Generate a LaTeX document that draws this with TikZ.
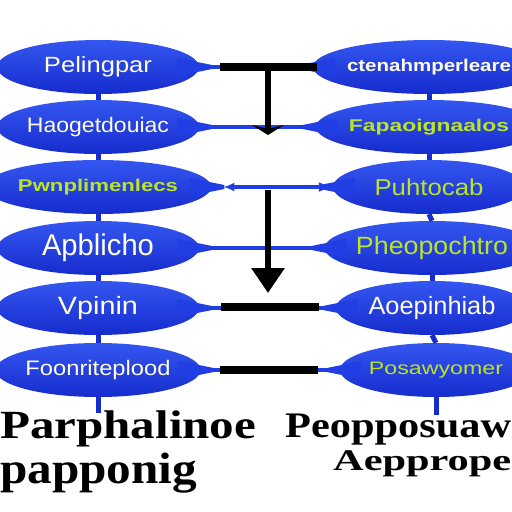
\documentclass[tikz,border=0pt]{standalone}
\usepackage{fontspec}
\setmainfont{Liberation Serif}
\setsansfont{Liberation Sans}
\usepackage{graphicx}
\usetikzlibrary{shapes.geometric,arrows.meta,positioning,calc}

\definecolor{ovalblue}{RGB}{32,62,228}
\definecolor{ovaltop}{RGB}{52,86,240}
\definecolor{ovaldark}{RGB}{22,44,205}
\definecolor{labelwhite}{RGB}{255,252,232}
\definecolor{labelgreen}{RGB}{188,228,38}

\newcommand{\fitword}[2]{\resizebox{#1}{\height}{#2}}
\newcommand{\sz}[1]{\fontsize{#1}{#1}\selectfont}

\tikzset{
  oval/.style={ellipse, top color=ovaltop, bottom color=ovaldark, draw=none,
    minimum height=54pt, inner sep=0pt, font=\sffamily},
  leftoval/.style={oval, minimum width=202pt},
  rightoval/.style={oval, minimum width=192pt},
  link/.style={ovalblue, line width=3.5pt},
  stem/.style={ovaldark, line width=5pt},
  bar/.style={black, line width=8pt},
  bigword/.style={inner sep=0pt, anchor=base west, font=\bfseries}
}

\begin{document}
\begin{tikzpicture}[x=1pt,y=-1pt]
    \useasboundingbox[fill=white] (0,0) rectangle (512,512);

    % Left column
    \node[leftoval, text=labelwhite] (l1) at (98,67) {\sz{22}\fitword{108pt}{Pelingpar}};
    \node[leftoval, text=labelwhite] (l2) at (98,127) {\sz{21}\fitword{142pt}{Haogetdouiac}};
    \node[leftoval, text=labelgreen] (l3) at (98,187) {\sz{17}\bfseries\fitword{160pt}{Pwnplimenlecs}};
    \node[leftoval, text=labelwhite] (l4) at (98,248) {\sz{30}\fitword{112pt}{Apblicho}};
    \node[leftoval, text=labelwhite] (l5) at (98,308) {\sz{25}\fitword{80pt}{Vpinin}};
    \node[leftoval, text=labelwhite] (l6) at (98,370) {\sz{21}\fitword{145pt}{Foonriteplood}};

    % Right column
    \node[rightoval, text=labelwhite] (r1) at (429,67) {\sz{17}\bfseries\fitword{164pt}{ctenahmperleare}};
    \node[rightoval, text=labelgreen] (r2) at (429,127) {\sz{17}\bfseries\fitword{160pt}{Fapaoignaalos}};
    \node[rightoval, text=labelgreen] (r3) at (429,187) {\sz{23}\fitword{109pt}{Puhtocab}};
    \node[rightoval, text=labelgreen] (r4) at (432,248) {\sz{25}\fitword{152pt}{Pheopochtro}};
    \node[rightoval, text=labelwhite] (r5) at (432,308) {\sz{25}\fitword{127pt}{Aoepinhiab}};
    \node[rightoval, text=labelgreen] (r6) at (436,370) {\sz{18}\fitword{134pt}{Posawyomer}};

    % Tapered ends
    \foreach \i in {1,...,6} {
        \fill[ovalblue] ($(l\i.east)+(-22,-9)$) -- ($(l\i.east)+(13,-2)$)
            -- ($(l\i.east)+(13,2)$) -- ($(l\i.east)+(-22,9)$) -- cycle;
        \fill[ovalblue] ($(r\i.west)+(22,-9)$) -- ($(r\i.west)+(-13,-2)$)
            -- ($(r\i.west)+(-13,2)$) -- ($(r\i.west)+(22,9)$) -- cycle;
    }

    % Vertical stems
    \foreach \i/\j in {1/2,2/3,3/4,4/5,5/6} {
        \draw[stem] (l\i.south) -- (l\j.north);
        \draw[stem] (r\i.south) -- (r\j.north);
    }
    \coordinate (lend) at ($(l6.south)+(0,16)$);
    \coordinate (rend) at ($(r6.south)+(0,18)$);
    \draw[stem] (l6.south) -- (lend);
    \draw[stem] (r6.south) -- (rend);

    % Horizontal links
    \draw[link] (l1.east) -- (r1.west);
    \draw[link] (l2.east) -- (r2.west);
    \draw[link, shorten <=12pt, {Latex[length=11pt,width=9pt]}-{Latex[length=14pt,width=10pt]}] (l3.east) -- (r3.west);
    \draw[link] (l4.east) -- (r4.west);
    \draw[link] (l5.east) -- (r5.west);
    \draw[link] (l6.east) -- (r6.west);

    % Black bars
    \coordinate (b1w) at (220,67);  \coordinate (b1e) at (317,67);
    \coordinate (b5w) at (221,307); \coordinate (b5e) at (319,307);
    \coordinate (b6w) at (220,370); \coordinate (b6e) at (318,370);
    \draw[bar] (b1w) -- (b1e);
    \draw[bar] (b5w) -- (b5e);
    \draw[bar] (b6w) -- (b6e);

    % Black arrows
    \coordinate (a1top) at (268,67);  \coordinate (a1tip) at (268,135);
    \coordinate (a2top) at (268,190); \coordinate (a2tip) at (268,293);
    \draw[black, line width=6pt, -{Stealth[width=32pt,length=10pt,inset=4pt]}] (a1top) -- (a1tip);
    \draw[black, line width=6pt, -{Triangle[width=32pt,length=25pt]}] (a2top) -- (a2tip);

    % Bottom words
    \node[bigword] (w1) at (0,438) {\sz{40}\fitword{256pt}{Parphalinoe}};
    \node[bigword] (w2) at (0,483) {\sz{44}\fitword{197pt}{papponig}};
    \node[bigword] (w3) at (285,437) {\sz{36}\fitword{226pt}{Peopposuaw}};
    \node[bigword] (w4) at (333,470) {\sz{30}\fitword{178pt}{Aepprope}};
\end{tikzpicture}
\end{document}
